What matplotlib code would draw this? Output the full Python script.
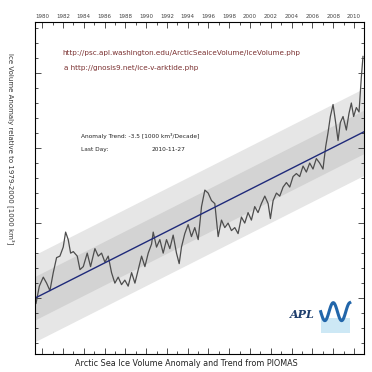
import numpy as np
import matplotlib
matplotlib.use("Agg")
import matplotlib.pyplot as plt
from matplotlib.ticker import MultipleLocator

# PIOMAS ice volume anomaly (1000 km3), read as decimal years
years = [1979.40, 1979.72, 1980.10, 1980.42, 1980.74, 1981.06, 1981.38, 1981.70,
         1982.02, 1982.25, 1982.50, 1982.73, 1982.99, 1983.37, 1983.63, 1983.95,
         1984.33, 1984.65, 1985.07, 1985.39, 1985.71, 1986.03, 1986.35, 1986.67,
         1986.99, 1987.31, 1987.63, 1987.95, 1988.27, 1988.60, 1988.92, 1989.24,
         1989.56, 1989.88, 1990.20, 1990.52, 1990.68, 1991.00, 1991.32, 1991.64,
         1991.96, 1992.28, 1992.60, 1992.92, 1993.18, 1993.40, 1993.72, 1994.04,
         1994.36, 1994.68, 1995.01, 1995.33, 1995.65, 1995.97, 1996.29, 1996.61,
         1996.93, 1997.25, 1997.57, 1997.89, 1998.21, 1998.53, 1998.85, 1999.17,
         1999.49, 1999.81, 2000.13, 2000.45, 2000.77, 2001.09, 2001.42, 2001.74,
         2001.96, 2002.22, 2002.54, 2002.86, 2003.18, 2003.50, 2003.82, 2004.14,
         2004.46, 2004.78, 2005.10, 2005.42, 2005.74, 2006.06, 2006.38, 2006.70,
         2007.02, 2007.28, 2007.50, 2007.73, 2007.99, 2008.24, 2008.47, 2008.69,
         2008.95, 2009.27, 2009.52, 2009.75, 2009.97, 2010.23, 2010.49, 2010.71,
         2010.87]
anomaly = [5.35, 4.2, 3.6, 4.0, 4.5, 3.3, 2.3, 2.2,
           1.6, 0.6, 1.1, 2.0, 1.9, 2.2, 3.1, 2.9,
           2.0, 2.9, 1.7, 2.2, 2.0, 2.6, 2.2, 3.3,
           4.0, 3.6, 4.1, 3.8, 4.2, 3.3, 4.0, 3.1,
           2.2, 2.9, 2.0, 1.4, 0.6, 1.6, 1.1, 2.0,
           1.1, 1.7, 0.8, 2.0, 2.7, 1.6, 0.7, 0.1,
           0.9, 0.3, 1.1, -1.1, -2.2, -2.0, -1.5, -1.3,
           0.9, -0.2, 0.3, 0.0, 0.5, 0.3, 0.7, -0.4,
           0.0, -0.7, -0.2, -1.1, -0.7, -1.3, -1.8, -1.3,
           -0.3, -1.5, -2.0, -1.8, -2.4, -2.7, -2.4, -3.1,
           -3.3, -3.1, -3.8, -3.4, -4.0, -3.6, -4.3, -4.0,
           -3.6, -5.1, -6.0, -7.1, -7.9, -6.7, -5.5, -6.7,
           -7.1, -6.2, -7.3, -8.0, -7.1, -7.7, -7.4, -9.7,
           -11.1]

trend_per_decade = -3.5
trend_ref_year = 1979.3
trend_ref_value = 5.0
sigma = 1.45

x0, x1 = 1979.3, 2010.95
narrow = ["Liberation Sans Narrow", "DejaVu Sans"]

fig = plt.figure(figsize=(3.72, 3.72), dpi=100)
ax = fig.add_axes([0.094, 0.048, 0.884, 0.893])

tx = np.array([x0 - 1, x1 + 1])
ty = trend_ref_value + trend_per_decade / 10 * (tx - trend_ref_year)
ax.fill_between(tx, ty - 2 * sigma, ty + 2 * sigma, color="#e6e6e6", lw=0)
ax.fill_between(tx, ty - sigma, ty + sigma, color="#d3d3d3", lw=0)
ax.plot(years, anomaly, color="#4d4d4d", lw=0.9)
ax.plot(tx, ty, color="#1f2a7a", lw=1.0)

ax.set_xlim(x0, x1)
ax.set_ylim(8.73, -13.4)

ax.xaxis.set_major_locator(MultipleLocator(2))
ax.xaxis.set_minor_locator(MultipleLocator(1))
ax.yaxis.set_major_locator(MultipleLocator(5))
ax.yaxis.set_minor_locator(MultipleLocator(1))
ax.xaxis.set_major_formatter(plt.FuncFormatter(lambda v, p: "%d" % v))
ax.tick_params(which="both", direction="in", top=True, bottom=True, left=True, right=True,
               labeltop=True, labelbottom=False, labelleft=False, labelright=False,
               labelsize=4, pad=2, width=0.6, color="#333333", labelcolor="#444444")
ax.tick_params(which="major", length=4)
ax.tick_params(which="minor", length=2)
for s in ax.spines.values():
    s.set_linewidth(0.8)

ax.text(1981.9, -11.2, "http://psc.apl.washington.edu/ArcticSeaiceVolume/IceVolume.php",
        fontsize=5.2, color="#7a3030", family=narrow)
ax.text(1982.1, -10.2, "a http://gnosis9.net/ice-v-arktide.php", fontsize=5.2,
        color="#7a3030", family=narrow)
ax.text(1983.7, -5.7, "Anomaly Trend: -3.5 [1000 km³/Decade]", fontsize=4.2,
        color="#222222", family=narrow)
ax.text(1983.7, -4.8, "Last Day:", fontsize=4.2, color="#222222", family=narrow)
ax.text(1990.5, -4.8, "2010-11-27", fontsize=4.2, color="#222222", family=narrow)

# logos, bottom right
ax.text(2003.8, 6.3, "APL", fontsize=8, color="#1f3f6e", fontweight="bold",
        fontstyle="italic", family="DejaVu Serif")
wx = np.linspace(2006.8, 2009.6, 60)
ax.fill_between(wx, 6.3, 7.3, color="#cde8f5", lw=0)
ax.plot(wx, 5.9 + 0.6 * np.sin((wx - 2006.8) * 3.9), color="#2266aa", lw=2.2)

fig.text(0.5, 0.012, "Arctic Sea Ice Volume Anomaly and Trend from PIOMAS",
         ha="center", va="bottom", fontsize=5.8, color="#222222", family=narrow)
fig.text(0.03, 0.6, "Ice Volume Anomaly relative to 1979-2000 [1000 km³]",
         ha="center", va="center", rotation=270, fontsize=5, color="#333333")

fig.savefig("out.png", dpi=100, facecolor="white")
